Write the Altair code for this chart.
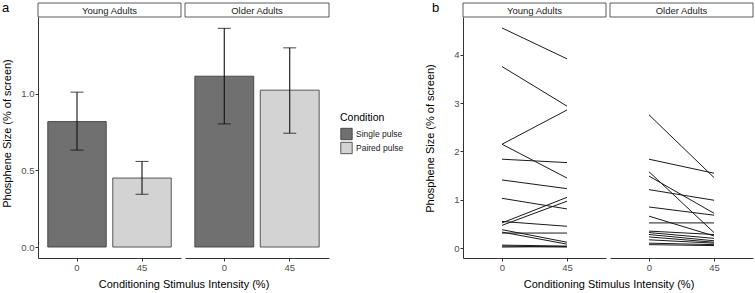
import altair as alt
import pandas as pd

groups = ["Young Adults", "Older Adults"]
intensities = ["0", "45"]
conditions = ["Single pulse", "Paired pulse"]

young_mean = [0.818, 0.450]
young_lower = [0.632, 0.344]
young_upper = [1.010, 0.558]
older_mean = [1.114, 1.023]
older_lower = [0.803, 0.742]
older_upper = [1.426, 1.299]

young_0 = [4.56, 3.76, 2.15, 2.15, 1.84, 1.41, 1.03, 0.52, 0.47, 0.55, 0.38, 0.33, 0.31, 0.06, 0.04, 0.02]
young_45 = [3.92, 2.94, 2.86, 1.45, 1.77, 1.23, 0.81, 1.05, 0.97, 0.45, 0.12, 0.08, 0.31, 0.04, 0.02, 0.03]
older_0 = [2.76, 1.84, 1.58, 1.49, 1.21, 0.85, 0.66, 0.52, 0.35, 0.32, 0.28, 0.23, 0.17, 0.10, 0.07]
older_45 = [1.46, 1.55, 0.32, 0.72, 0.99, 0.68, 0.25, 0.52, 0.28, 0.20, 0.15, 0.12, 0.10, 0.07, 0.05]

FONT = "Liberation Sans"
H = 241

bar_rows = []
for g, m, lo, up in [(groups[0], young_mean, young_lower, young_upper),
                     (groups[1], older_mean, older_lower, older_upper)]:
    for i in range(2):
        bar_rows.append(dict(group=g, intensity=intensities[i], condition=conditions[i],
                             mean=m[i], lower=lo[i], upper=up[i]))
bars_df = pd.DataFrame(bar_rows)

line_rows = []
for g, v0, v45 in [(groups[0], young_0, young_45), (groups[1], older_0, older_45)]:
    for k, (a, b) in enumerate(zip(v0, v45)):
        line_rows.append(dict(group=g, subject=f"{g}-{k}", intensity="0", value=a))
        line_rows.append(dict(group=g, subject=f"{g}-{k}", intensity="45", value=b))
lines_df = pd.DataFrame(line_rows)


def strip(label, w):
    d = pd.DataFrame({"label": [label]})
    box = alt.Chart(d).mark_rect(fill="white", stroke="#333333", strokeWidth=0.8).encode(
        x=alt.value(0), x2=alt.value(w), y=alt.value(-14), y2=alt.value(0))
    txt = alt.Chart(d).mark_text(font=FONT, fontSize=9.5, color="#1a1a1a", baseline="middle").encode(
        x=alt.value(w / 2), y=alt.value(-6.5), text="label:N")
    return [box, txt]


def panel_letter(letter, dx):
    d = pd.DataFrame({"label": [letter]})
    return alt.Chart(d).mark_text(font=FONT, fontSize=13, color="#000000", align="left",
                                  baseline="middle").encode(
        x=alt.value(dx), y=alt.value(-9), text="label:N")


ya = alt.Scale(domain=[-0.0715, 1.50], zero=False, nice=False)
xa = alt.Scale(type="band", domain=intensities, paddingInner=0.1, paddingOuter=0.15)
cs = alt.Scale(domain=conditions, range=["#707070", "#D3D3D3"])
yb = alt.Scale(domain=[-0.207, 4.787], zero=False, nice=False)
xb = alt.Scale(type="point", domain=intensities, padding=0.6)

XTITLE = "Conditioning Stimulus Intensity (%)"
YTITLE = "Phosphene Size (% of screen)"


def bar_panel(g, w, first):
    base = alt.Chart(bars_df).transform_filter(alt.datum.group == g)
    if first:
        xaxis = alt.Axis(title=XTITLE, titleX=145.5, titlePadding=7, labelAngle=0)
        yaxis = alt.Axis(values=[0, 0.5, 1.0], format=".1f", title=YTITLE,
                         titleX=-31, titleY=116, titleBaseline="middle", titleAlign="center")
    else:
        xaxis = alt.Axis(title=None, labelAngle=0)
        yaxis = None
    legend = alt.Legend(title="Condition", orient="none", legendX=302, legendY=96,
                        rowPadding=-4, symbolSize=130)
    xenc = alt.X("intensity:N", scale=xa, axis=xaxis, sort=intensities)
    bars = base.mark_bar(stroke="#333333", strokeWidth=0.8).encode(
        x=xenc,
        y=alt.Y("mean:Q", scale=ya, axis=yaxis),
        y2=alt.datum(0),
        color=alt.Color("condition:N", scale=cs, legend=legend),
    )
    rules = base.mark_rule(color="#111111", strokeWidth=1.1).encode(
        x=xenc, y=alt.Y("lower:Q", scale=ya, axis=yaxis), y2="upper:Q")
    cap_hi = base.mark_tick(size=13, thickness=1.1, color="#111111").encode(
        x=xenc, y=alt.Y("upper:Q", scale=ya, axis=yaxis))
    cap_lo = base.mark_tick(size=13, thickness=1.1, color="#111111").encode(
        x=xenc, y=alt.Y("lower:Q", scale=ya, axis=yaxis))
    layers = strip(g, w) + [bars, rules, cap_hi, cap_lo]
    if first:
        layers.append(panel_letter("a", -36))
    return alt.layer(*layers).properties(width=w, height=H)


def line_panel(g, w, first):
    base = alt.Chart(lines_df).transform_filter(alt.datum.group == g)
    if first:
        xaxis = alt.Axis(title=XTITLE, titleX=145.5, titlePadding=7, labelAngle=0)
        yaxis = alt.Axis(values=[0, 1, 2, 3, 4], format="d", title=YTITLE,
                         titleX=-33, titleY=121, titleBaseline="middle", titleAlign="center")
    else:
        xaxis = alt.Axis(title=None, labelAngle=0)
        yaxis = None
    lines = base.mark_line(color="#1a1a1a", strokeWidth=1).encode(
        x=alt.X("intensity:N", scale=xb, axis=xaxis, sort=intensities),
        y=alt.Y("value:Q", scale=yb, axis=yaxis),
        detail="subject:N",
    )
    layers = strip(g, w) + [lines]
    if first:
        layers.append(panel_letter("b", -31))
    return alt.layer(*layers).properties(width=w, height=H)


spacer = alt.Chart(pd.DataFrame({"v": [0]})).mark_point(opacity=0).encode(
    x=alt.value(0), y=alt.value(0)).properties(width=126, height=H)

chart = alt.hconcat(
    bar_panel(groups[0], 143, True),
    bar_panel(groups[1], 144, False),
    spacer,
    line_panel(groups[0], 143, True),
    line_panel(groups[1], 143, False),
    spacing=4,
    bounds="flush",
).resolve_scale(x="independent", y="independent").properties(
    padding={"left": 1, "top": 2, "right": 1, "bottom": 0}
).configure_view(stroke=None).configure_axis(
    domainColor="#333333", domainWidth=1, tickColor="#333333", tickSize=3,
    labelColor="#4d4d4d", labelFontSize=9.5, labelFont=FONT, labelPadding=1,
    titleFont=FONT, titleFontSize=11, titleColor="#000000", titleFontWeight="normal",
    grid=False,
).configure_legend(
    titleFont=FONT, titleFontSize=10.5, titleFontWeight="normal", titleColor="#000000",
    labelFont=FONT, labelFontSize=8.5, labelColor="#1a1a1a",
    symbolType="square", symbolStrokeColor="#333333", symbolStrokeWidth=0.8,
    titlePadding=4, labelOffset=3,
)

chart.save("out.html", embed_options={"renderer": "svg", "actions": False})
